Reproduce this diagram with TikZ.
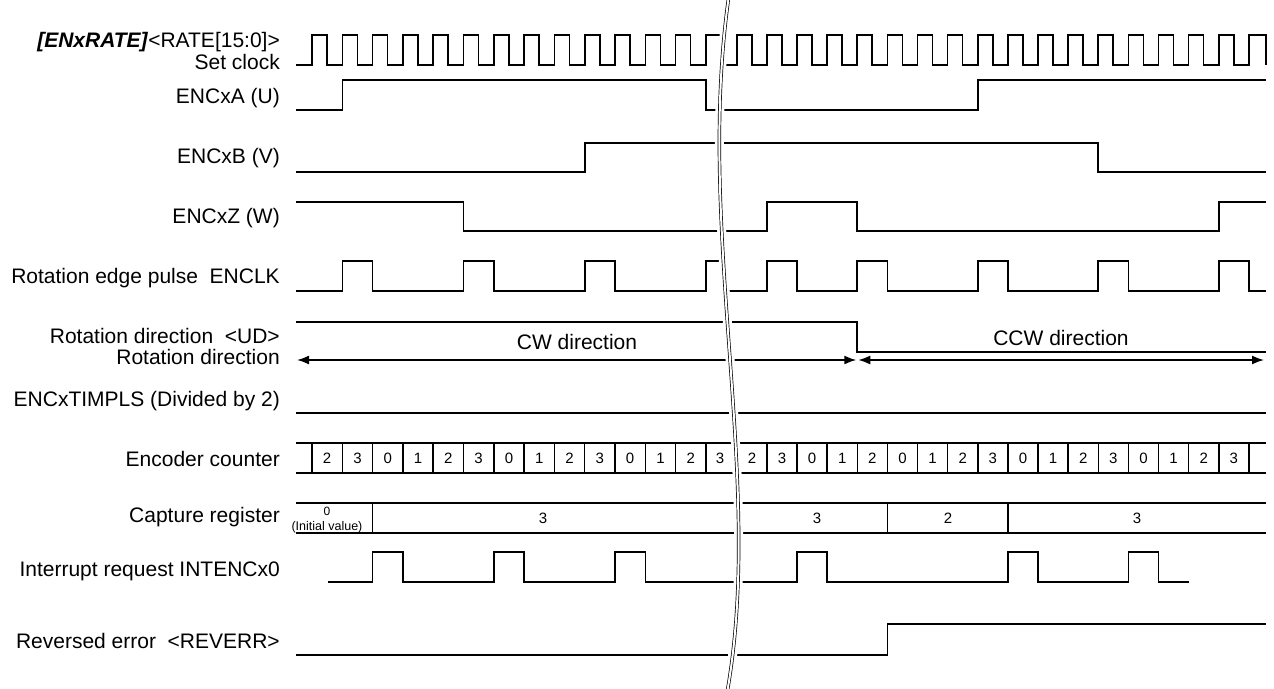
\documentclass[tikz,border=0pt]{standalone}
\usepackage{fontspec}
\setmainfont{Liberation Sans}
\usetikzlibrary{arrows.meta}
\def\lblfont{\fontsize{21}{25}\selectfont}
\def\numfont{\fontsize{15}{18}\selectfont}

\begin{document}
\begin{tikzpicture}[x=1pt, y=-1pt,
	declare function={lx(\k)=312+30.3*\k; rx(\k)=766.9+30.125*\k;},
	sig/.style={line width=1.6pt},
	cellbox/.style={line width=1.5pt},
	lbl/.style={anchor=base east, inner sep=0pt, font=\lblfont},
	dirtext/.style={anchor=base, inner sep=0pt, font=\lblfont},
	num/.style={inner sep=0pt, font=\numfont},
	dirarrow/.style={line width=1.6pt, {Latex[length=12pt,width=9pt]}-{Latex[length=12pt,width=9pt]}}]
			%%%%% START %%%%%
			\useasboundingbox (0,0) rectangle (1274,688);
			
			% labels
			\node[lbl] (lblrate) at (280,47) {\textbf{\textit{[ENxRATE]}}<RATE[15:0]>};
			\node[lbl] (lblclk) at (280,69) {Set clock};
			\node[lbl] (lbla) at (280,103) {ENCxA (U)};
			\node[lbl] (lblb) at (280,163) {ENCxB (V)};
			\node[lbl] (lblz) at (280,223) {ENCxZ (W)};
			\node[lbl] (lblenclk) at (280,283) {Rotation edge pulse\ \ ENCLK};
			\node[lbl] (lblud) at (280,343) {Rotation direction\ \ <UD>};
			\node[lbl] (lbldir) at (280,364) {Rotation direction};
			\node[lbl] (lbltim) at (280,406) {ENCxTIMPLS (Divided by 2)};
			\node[lbl] (lblcnt) at (280,466) {Encoder counter};
			\node[lbl] (lblcap) at (280,522) {Capture register};
			\node[lbl] (lblint) at (280,576) {Interrupt request INTENCx0};
			\node[lbl] (lblerr) at (280,648) {Reversed error\ \ <REVERR>};
			
			% set clock
			\draw[sig] (296,65) \foreach \k in {0,...,12} { -- ({lx(\k)},65) -- ({lx(\k)},35) -- ({lx(\k)+15},35) -- ({lx(\k)+15},65) }
				-- ({lx(13)},65) -- ({lx(13)},35) -- (723,35);
			\draw[sig] (723,65) \foreach \k in {-1,...,15} { -- ({rx(\k)},65) -- ({rx(\k)},35) -- ({rx(\k)+15},35) -- ({rx(\k)+15},65) }
				-- ({rx(16)},65) -- ({rx(16)},35) -- (1266,35) -- (1266,65);
			
			% ENCxA, ENCxB, ENCxZ
			\draw[sig] (296,110) -- ({lx(1)},110) -- ({lx(1)},80) -- ({lx(13)},80) -- ({lx(13)},110)
				-- ({rx(7)},110) -- ({rx(7)},80) -- (1266,80);
			\draw[sig] (296,172) -- ({lx(9)},172) -- ({lx(9)},143) -- ({rx(11)},143) -- ({rx(11)},172) -- (1266,172);
			\draw[sig] (296,202) -- ({lx(5)},202) -- ({lx(5)},231) -- ({rx(0)},231) -- ({rx(0)},202)
				-- ({rx(3)},202) -- ({rx(3)},231) -- ({rx(15)},231) -- ({rx(15)},202) -- (1266,202);
			
			% ENCLK
			\draw[sig] (296,291) \foreach \k in {1,5,9} { -- ({lx(\k)},291) -- ({lx(\k)},261) -- ({lx(\k+1)},261) -- ({lx(\k+1)},291) }
				-- ({lx(13)},291) -- ({lx(13)},261) -- (724,261);
			\draw[sig] (724,291) \foreach \k in {0,3,7,11,15} { -- ({rx(\k)},291) -- ({rx(\k)},261) -- ({rx(\k+1)},261) -- ({rx(\k+1)},291) }
				-- (1266,291);
			
			% UD
			\draw[sig] (296,322) -- ({rx(3)},322) -- ({rx(3)},352) -- (1266,352);
			\coordinate (cwl) at (297,360);
			\coordinate (cwr) at ({rx(3)-1},360);
			\coordinate (ccwl) at ({rx(3)+1},360);
			\coordinate (ccwr) at (1264,360);
			\draw[dirarrow] (cwl) -- (cwr);
			\draw[dirarrow] (ccwl) -- (ccwr);
			\node[dirtext] (cw) at (577,349) {CW direction};
			\node[dirtext] (ccw) at (1061,345) {CCW direction};
			
			% ENCxTIMPLS
			\draw[sig] (296,413) -- (1266,413);
			
			% encoder counter
			\draw[cellbox] (296,443) -- (1266,443);
			\draw[cellbox] (296,473) -- (1266,473);
			\foreach \k in {0,...,13} \draw[cellbox] ({lx(\k)},443) -- ({lx(\k)},473);
			\foreach \k in {0,...,16} \draw[cellbox] ({rx(\k)},443) -- ({rx(\k)},473);
			\foreach \v [count=\k from 0] in {2,3,0,1,2,3,0,1,2,3,0,1,2}
				\node[num] (cl\k) at ({lx(\k)+15.15},458) {\v};
			\node[num] (cl13) at (720,458) {3};
			\node[num] (cr) at (752,458) {2};
			\foreach \v [count=\k from 0] in {3,0,1,2,0,1,2,3,0,1,2,3,0,1,2,3}
				\node[num] (cr\k) at ({rx(\k)+15.06},458) {\v};
			
			% capture register
			\draw[cellbox] (296,503) -- (1266,503);
			\draw[cellbox] (296,533) -- (1266,533);
			\foreach \k in {2} \draw[cellbox] ({lx(\k)},503) -- ({lx(\k)},533);
			\foreach \k in {4,8} \draw[cellbox] ({rx(\k)},503) -- ({rx(\k)},533);
			\node[num, font=\fontsize{12}{14}\selectfont] (cap0) at (327,511) {0};
			\node[num, font=\fontsize{12.5}{14}\selectfont] (capinit) at (327,527) {(Initial value)};
			\node[num] (cap1) at (543,518) {3};
			\node[num] (cap2) at (817,518) {3};
			\node[num] (cap3) at (948,518) {2};
			\node[num] (cap4) at (1137,518) {3};
			
			% interrupt request
			\draw[sig] (328,582) \foreach \k in {2,6,10} { -- ({lx(\k)},582) -- ({lx(\k)},552) -- ({lx(\k+1)},552) -- ({lx(\k+1)},582) }
				\foreach \k in {1,8,12} { -- ({rx(\k)},582) -- ({rx(\k)},552) -- ({rx(\k+1)},552) -- ({rx(\k+1)},582) }
				-- ({rx(14)},582);
			
			% reversed error
			\draw[sig] (296,655) -- ({rx(4)},655) -- ({rx(4)},624) -- (1266,624);
			
			% break
			\draw[white, line width=9pt] (729,-5) .. controls (695,230) and (765,480) .. (727,693);
			\draw[line width=0.7pt, double=white, double distance=2pt] (729,-5) .. controls (695,230) and (765,480) .. (727,693);
			
			%%%%% END %%%%%
\end{tikzpicture}
\end{document}
